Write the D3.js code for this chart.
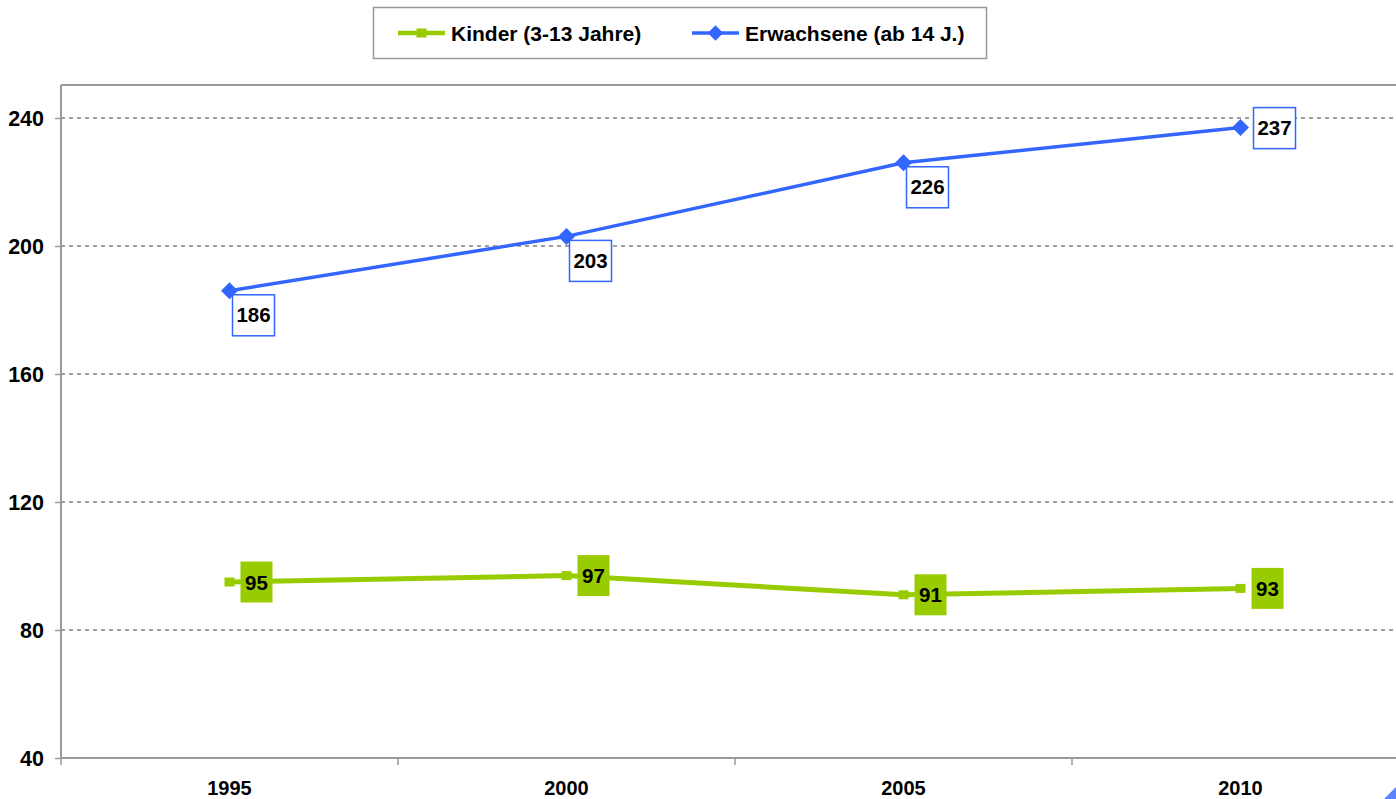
<!DOCTYPE html>
<html><head><meta charset="utf-8">
<script src="https://cdn.jsdelivr.net/npm/d3@7"></script>
<style>body{margin:0;background:#fff;}svg{display:block;font-family:Arial,"Liberation Sans",sans-serif;}</style>
</head><body>
<svg id="c" width="1396" height="799"></svg>
<script>
const years = ["1995", "2000", "2005", "2010"];
const kinder = [95, 97, 91, 93];
const erwachsene = [186, 203, 226, 237];
const yTicks = [40, 80, 120, 160, 200, 240];
const seriesNames = ["Kinder (3-13 Jahre)", "Erwachsene (ab 14 J.)"];

(function () {
const green = "#99CC00", blue = "#3366FF", axisCol = "#999999", gridCol = "#808080";
const FF = "Arial, 'Liberation Sans', sans-serif";
const svg = d3.select("#c");
const pLeft = 61, pTop = 85, pBottom = 758, bandW = 337;
const x = d3.scaleBand().domain(years).range([pLeft, pLeft + bandW * years.length]);
const y = d3.scaleLinear().domain([40, 240]).range([pBottom, 118]);
const cx = d => x(d) + x.bandwidth() / 2;

// plot border top
svg.append("line").attr("x1", pLeft).attr("x2", 1396).attr("y1", pTop).attr("y2", pTop)
  .attr("stroke", axisCol).attr("stroke-width", 2);

// gridlines
svg.append("g").selectAll("line").data(yTicks.filter(t => t > 40)).join("line")
  .attr("x1", pLeft).attr("x2", 1396).attr("y1", d => y(d)).attr("y2", d => y(d))
  .attr("stroke", gridCol).attr("stroke-width", 1.5).attr("stroke-dasharray", "4,4");

// y axis
const ya = svg.append("g").attr("transform", `translate(${pLeft},0)`)
  .call(d3.axisLeft(y).tickValues(yTicks).tickSize(6).tickPadding(10));
ya.select(".domain").attr("d", `M0,${pTop}V${pBottom}`).attr("stroke", axisCol).attr("stroke-width", 2);
ya.selectAll(".tick line").attr("stroke", axisCol).attr("stroke-width", 1.5);
ya.selectAll(".tick text").attr("x", -17).attr("dy", "0.35em").attr("font-size", 21.5).attr("font-weight", "bold")
  .attr("fill", "#000").attr("font-family", FF);

// x axis
const xa = svg.append("g").attr("transform", `translate(0,${pBottom})`)
  .call(d3.axisBottom(x).tickSize(0));
xa.select(".domain").attr("d", `M${pLeft},0H1396`).attr("stroke", axisCol).attr("stroke-width", 2);
xa.selectAll(".tick text").attr("y", 37).attr("dy", 0).attr("font-size", 20).attr("font-weight", "bold")
  .attr("fill", "#000").attr("font-family", FF);
const bounds = years.map(d => x(d)).concat([x(years[years.length - 1]) + bandW]);
svg.append("g").selectAll("line").data(bounds).join("line")
  .attr("x1", d => d).attr("x2", d => d).attr("y1", pBottom).attr("y2", pBottom + 7)
  .attr("stroke", axisCol).attr("stroke-width", 1.5);

// lines
const lineGen = arr => d3.line().x((d, i) => cx(years[i])).y(d => y(d))(arr);
svg.append("path").attr("d", lineGen(kinder)).attr("fill", "none").attr("stroke", green).attr("stroke-width", 5);
svg.append("path").attr("d", lineGen(erwachsene)).attr("fill", "none").attr("stroke", blue).attr("stroke-width", 3.5);

// markers
svg.append("g").selectAll("rect").data(kinder).join("rect")
  .attr("x", (d, i) => cx(years[i]) - 5).attr("y", d => y(d) - 4.5).attr("width", 10).attr("height", 9).attr("fill", green);
svg.append("g").selectAll("path").data(erwachsene).join("path")
  .attr("transform", (d, i) => `translate(${cx(years[i])},${y(d)}) rotate(45)`)
  .attr("d", "M-6,-6H6V6H-6Z").attr("fill", blue);

// green labels
const gl = svg.append("g").selectAll("g").data(kinder).join("g")
  .attr("transform", (d, i) => `translate(${cx(years[i]) + 11},${y(d)})`);
gl.append("rect").attr("x", 0).attr("y", -20.5).attr("width", 32).attr("height", 41).attr("fill", green);
gl.append("text").attr("x", 16).attr("y", 7.5).attr("text-anchor", "middle")
  .attr("font-size", 20.5).attr("font-weight", "bold").text(d => d);

// blue labels
const n = erwachsene.length;
const bl = svg.append("g").selectAll("g").data(erwachsene).join("g")
  .attr("transform", (d, i) => i === n - 1
    ? `translate(${cx(years[i]) + 13},${y(d) - 20})`
    : `translate(${cx(years[i]) + 3},${y(d) + 4})`);
bl.append("rect").attr("x", 0).attr("y", 0).attr("width", 42).attr("height", 41)
  .attr("fill", "#fff").attr("stroke", blue).attr("stroke-width", 1.5);
bl.append("text").attr("x", 21).attr("y", 27.5).attr("text-anchor", "middle")
  .attr("font-size", 20.5).attr("font-weight", "bold").text(d => d);

// legend
const lg = svg.append("g");
lg.append("rect").attr("x", 373.5).attr("y", 7.5).attr("width", 613).attr("height", 51)
  .attr("fill", "#fff").attr("stroke", "#999").attr("stroke-width", 1.5);
const li = [
  {name: seriesNames[0], col: green, x0: 398, tx: 451, sw: 4.5, shape: "sq"},
  {name: seriesNames[1], col: blue, x0: 692, tx: 745, sw: 3.5, shape: "di"}
];
li.forEach(o => {
  lg.append("line").attr("x1", o.x0).attr("x2", o.x0 + 47).attr("y1", 33).attr("y2", 33)
    .attr("stroke", o.col).attr("stroke-width", o.sw);
  if (o.shape === "sq") lg.append("rect").attr("x", o.x0 + 18.5).attr("y", 28.5).attr("width", 10).attr("height", 9).attr("fill", o.col);
  else lg.append("path").attr("transform", `translate(${o.x0 + 23.5},33) rotate(45)`).attr("d", "M-5.5,-5.5H5.5V5.5H-5.5Z").attr("fill", o.col);
  lg.append("text").attr("x", o.tx).attr("y", 40.5).attr("font-size", 21).attr("font-weight", "bold").text(o.name);
});

// corner decoration
svg.append("path").attr("d", "M1384,799L1396,787V799Z").attr("fill", blue).attr("opacity", 0.8);
})();
</script>
</body></html>
